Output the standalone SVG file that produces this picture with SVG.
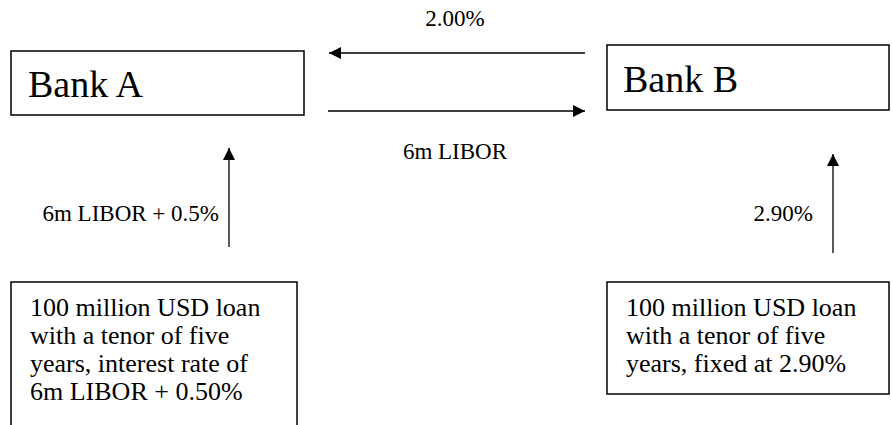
<svg xmlns="http://www.w3.org/2000/svg" width="892" height="425" viewBox="0 0 892 425">
<style>
.box{fill:#fff;stroke:#000;stroke-width:1.5}
text{font-family:'Liberation Serif','Times New Roman',serif;fill:#000}
.big{font-size:38px}
.lbl{font-size:23px}
.body{font-size:26px}
.conn{stroke:#000;stroke-width:1.3;fill:none;marker-end:url(#ah)}
</style>
<defs>
<marker id="ah" viewBox="0 0 10 10" refX="10" refY="5" markerWidth="12" markerHeight="12" markerUnits="userSpaceOnUse" orient="auto">
<path d="M0,0 L10,5 L0,10 Z" fill="#000"/>
</marker>
</defs>
<g id="bankA">
<rect class="box" x="11" y="51" width="293" height="64"/>
<text class="big" x="28" y="97">Bank A</text>
</g>
<g id="bankB">
<rect class="box" x="607" y="45" width="282" height="65"/>
<text class="big" x="623" y="92">Bank B</text>
</g>
<g id="loanA">
<path class="box" d="M11,426 V282 H297 V426"/>
<text class="body" x="30" y="316">100 million USD loan</text>
<text class="body" x="30" y="344">with a tenor of five</text>
<text class="body" x="30" y="372">years, interest rate of</text>
<text class="body" x="30" y="400">6m LIBOR + 0.50%</text>
</g>
<g id="loanB">
<rect class="box" x="607" y="282" width="282" height="112"/>
<text class="body" x="626" y="316">100 million USD loan</text>
<text class="body" x="626" y="344">with a tenor of five</text>
<text class="body" x="626" y="372">years, fixed at 2.90%</text>
</g>
<g id="connectors">
<line class="conn" x1="585" y1="53" x2="329" y2="53"/>
<line class="conn" x1="328" y1="111" x2="585" y2="111"/>
<line class="conn" x1="229" y1="247" x2="229" y2="148"/>
<line class="conn" x1="833" y1="253" x2="833" y2="154"/>
</g>
<g id="labels">
<text class="lbl" x="455" y="26" text-anchor="middle">2.00%</text>
<text class="lbl" x="455" y="159" text-anchor="middle">6m LIBOR</text>
<text class="lbl" x="219" y="221" text-anchor="end">6m LIBOR + 0.5%</text>
<text class="lbl" x="813" y="221" text-anchor="end">2.90%</text>
</g>
</svg>
